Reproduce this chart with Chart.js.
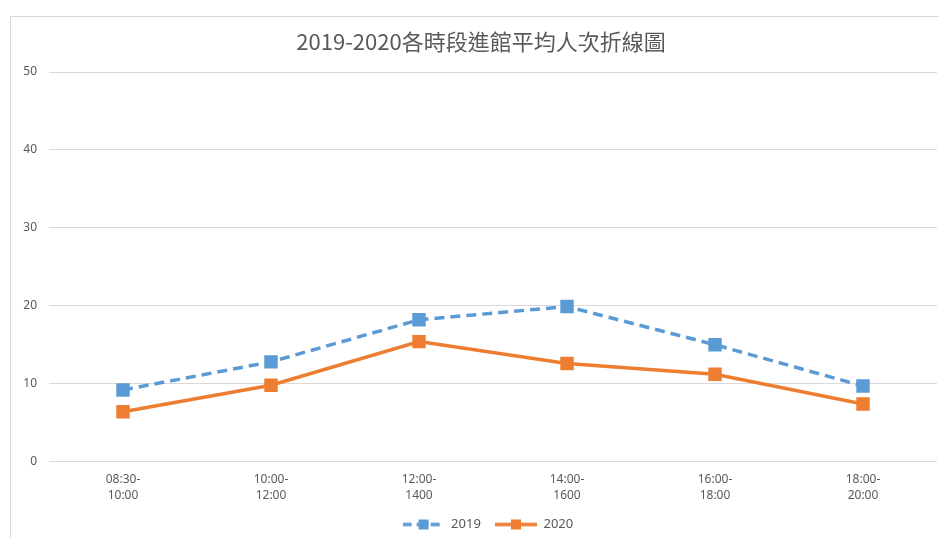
<!DOCTYPE html>
<html>
<head>
<meta charset="utf-8">
<script src="https://cdn.jsdelivr.net/npm/chart.js@4"></script>
<style>
html,body{margin:0;padding:0;background:#fff;overflow:hidden;}
#wrap{position:absolute;left:0;top:0;width:939px;height:538px;overflow:hidden;}
#frame{position:absolute;left:10px;top:16px;width:940px;height:540px;border-left:1px solid #d9d9d9;border-top:1px solid #d9d9d9;pointer-events:none;}
canvas{position:absolute;left:0;top:0;}
</style>
</head>
<body>
<div id="wrap"><div id="frame"></div><canvas id="c" width="939" height="538"></canvas></div>
<script>
const titleText = '2019-2020各時段進館平均人次折線圖';
const categories = [['08:30-','10:00'],['10:00-','12:00'],['12:00-','1400'],['14:00-','1600'],['16:00-','18:00'],['18:00-','20:00']];
const seriesNames = ['2019', '2020'];
const series2019 = [9.2, 12.8, 18.2, 19.9, 15.0, 9.7];
const series2020 = [6.4, 9.8, 15.4, 12.6, 11.2, 7.4];
const yTicks = [0, 10, 20, 30, 40, 50];

const blue = '#5B9BD5', orange = '#ED7D31', textCol = '#595959';

function legendIcon(color, dashed){
  const cv = document.createElement('canvas');
  cv.width = 42; cv.height = 14;
  const g = cv.getContext('2d');
  g.strokeStyle = color; g.lineWidth = 3.5;
  if (dashed) g.setLineDash([9,5]);
  g.beginPath(); g.moveTo(0,7); g.lineTo(42,7); g.stroke();
  g.fillStyle = color; g.fillRect(16,2,10,10);
  return cv;
}
const icon2019 = legendIcon(blue, true);
const icon2020 = legendIcon(orange, false);

const titlePlugin = {
  id: 'customTitle',
  afterDraw(chart) {
    const ctx = chart.ctx;
    ctx.save();
    ctx.fillStyle = textCol;
    ctx.font = '22px "Noto Sans CJK TC", "Noto Sans", sans-serif';
    ctx.textAlign = 'center';
    ctx.textBaseline = 'middle';
    ctx.fillText(titleText, 481, 42);
    ctx.restore();
  }
};

new Chart(document.getElementById('c'), {
  type: 'line',
  data: {
    labels: categories,
    datasets: [
      {label: seriesNames[0], data: series2019, borderColor: blue, backgroundColor: blue, borderWidth: 3.5, borderDash:[10,6], pointStyle:'rect', pointRadius: 9.5, pointHoverRadius: 9.5, pointBorderWidth: 0, tension: 0},
      {label: seriesNames[1], data: series2020, borderColor: orange, backgroundColor: orange, borderWidth: 3.5, pointStyle:'rect', pointRadius: 9.5, pointHoverRadius: 9.5, pointBorderWidth: 0, tension: 0}
    ]
  },
  plugins: [titlePlugin],
  options: {
    responsive: false,
    animation: false,
    layout: {autoPadding: false, padding: {left: 0, right: 2, top: 72, bottom: -3}},
    plugins: {
      title: {display: false},
      legend: {
        position: 'bottom',
        fullSize: false,
        labels: {
          color: textCol,
          font: {family: '"Noto Sans", sans-serif', size: 13},
          usePointStyle: true,
          pointStyleWidth: 42,
          padding: 4,
          generateLabels: (chart) => chart.data.datasets.map((ds, i) => ({
            text: ds.label + '   ', pointStyle: i === 0 ? icon2019 : icon2020,
            fillStyle: ds.borderColor, strokeStyle: ds.borderColor, lineWidth: 0,
            fontColor: textCol, datasetIndex: i, hidden: false
          }))
        }
      },
      tooltip: {enabled: false}
    },
    scales: {
      x: {
        offset: true,
        grid: {display: false, drawTicks: false},
        border: {display: false},
        afterFit: (s) => { s.paddingLeft = 0; s.paddingRight = 0; },
        ticks: {color: textCol, font: {family: '"Noto Sans", sans-serif', size: 12, lineHeight: 1.35}, padding: 10, maxRotation: 0, autoSkip: false}
      },
      y: {
        min: 0, max: 50,
        afterBuildTicks: (s) => { s.ticks = yTicks.map(v => ({value: v})); },
        afterFit: (s) => { s.width = 49; s.paddingTop = 0; s.paddingBottom = 0; },
        grid: {color: '#d9d9d9', lineWidth: 1, drawTicks: false},
        border: {display: false},
        ticks: {color: textCol, font: {family: '"Noto Sans", sans-serif', size: 12}, padding: 12}
      }
    }
  }
});
</script>
</body>
</html>
